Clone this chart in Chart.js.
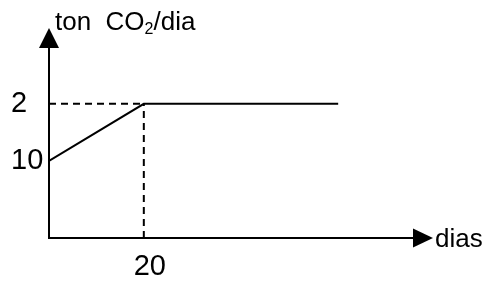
<!DOCTYPE html>
<html><head><meta charset="utf-8">
<script src="https://cdn.jsdelivr.net/npm/chart.js@4"></script>
<style>html,body{margin:0;padding:0;background:#fff}#wrap{width:489px;height:286px}</style>
</head><body><div id="wrap"><canvas id="c" width="489" height="286"></canvas></div>
<script>
// Data (schematic values)
const days = [0, 20, 61];
const emissions = [1.15, 2, 2];
const xTickValues = [20];
const xTickLabels = ['20'];
const yTickValues = [1.15, 2];
const yTickLabels = ['10', '2'];
const xAxisTitle = 'dias';
const yAxisTitleParts = ['ton  CO', '2', '/dia'];
const xMax = 81;
const yMax = 3.13;

const FONT = '"Liberation Sans", Arial, Helvetica, sans-serif';
const kneeX = days[1], kneeY = emissions[1];

const axesPlugin = {
  id: 'axesArrows',
  afterDraw(chart) {
    const ctx = chart.ctx, xs = chart.scales.x, ys = chart.scales.y;
    const x0 = xs.getPixelForValue(0), y0 = ys.getPixelForValue(0);
    const yTop = ys.getPixelForValue(yMax), xRight = xs.getPixelForValue(xMax);
    ctx.save();
    ctx.strokeStyle = '#000'; ctx.fillStyle = '#000'; ctx.lineWidth = 2;
    ctx.beginPath();
    ctx.moveTo(x0, y0); ctx.lineTo(x0, yTop + 18);
    ctx.moveTo(x0 - 1, y0); ctx.lineTo(xRight - 19, y0);
    ctx.stroke();
    // arrow heads
    ctx.beginPath();
    ctx.moveTo(x0, yTop); ctx.lineTo(x0 - 10, yTop + 20); ctx.lineTo(x0 + 10, yTop + 20); ctx.closePath(); ctx.fill();
    ctx.beginPath();
    ctx.moveTo(xRight, y0); ctx.lineTo(xRight - 20, y0 - 9.5); ctx.lineTo(xRight - 20, y0 + 9.5); ctx.closePath(); ctx.fill();
    // axis titles
    ctx.textBaseline = 'alphabetic'; ctx.textAlign = 'left';
    ctx.font = '26px ' + FONT;
    ctx.fillText(xAxisTitle, xRight + 2, y0 + 9);
    let tx = x0 + 6; const ty = yTop + 2;
    ctx.fillText(yAxisTitleParts[0], tx, ty); tx += ctx.measureText(yAxisTitleParts[0]).width;
    ctx.font = '16px ' + FONT;
    ctx.fillText(yAxisTitleParts[1], tx, ty + 4); tx += ctx.measureText(yAxisTitleParts[1]).width;
    ctx.font = '26px ' + FONT;
    ctx.fillText(yAxisTitleParts[2], tx, ty);
    ctx.restore();
  }
};

new Chart(document.getElementById('c'), {
  type: 'scatter',
  data: {
    datasets: [
      { data: days.map((d, i) => ({x: d, y: emissions[i]})), showLine: true, borderColor: '#000', borderWidth: 2, pointRadius: 0, fill: false },
      { data: [{x: 0, y: kneeY}, {x: kneeX, y: kneeY}], showLine: true, borderColor: '#000', borderWidth: 2, borderDash: [7, 5], pointRadius: 0 },
      { data: [{x: kneeX, y: 0}, {x: kneeX, y: kneeY}], showLine: true, borderColor: '#000', borderWidth: 2, borderDash: [7, 5], pointRadius: 0 }
    ]
  },
  options: {
    responsive: false, animation: false, devicePixelRatio: 1,
    layout: { padding: { left: 11, top: 28, right: 56, bottom: 0 } },
    plugins: { legend: { display: false }, tooltip: { enabled: false } },
    scales: {
      x: {
        type: 'linear', min: 0, max: xMax,
        grid: { display: false, drawTicks: false }, border: { display: false },
        afterBuildTicks: s => { s.ticks = xTickValues.map(v => ({value: v})); },
        afterFit: s => { s.height = 48; },
        ticks: { color: '#000', font: { family: FONT, size: 29 }, padding: 12, labelOffset: 6, maxRotation: 0, autoSkip: false,
          callback: v => { const i = xTickValues.indexOf(v); return i >= 0 ? xTickLabels[i] : ''; } }
      },
      y: {
        type: 'linear', min: 0, max: yMax,
        grid: { display: false, drawTicks: false }, border: { display: false },
        afterBuildTicks: s => { s.ticks = yTickValues.map(v => ({value: v})); },
        afterFit: s => { s.width = 38; },
        ticks: { color: '#000', font: { family: FONT, size: 29 }, crossAlign: 'far', autoSkip: false,
          callback: v => { const i = yTickValues.indexOf(v); return i >= 0 ? yTickLabels[i] : ''; } }
      }
    }
  },
  plugins: [axesPlugin]
});
</script></body></html>
